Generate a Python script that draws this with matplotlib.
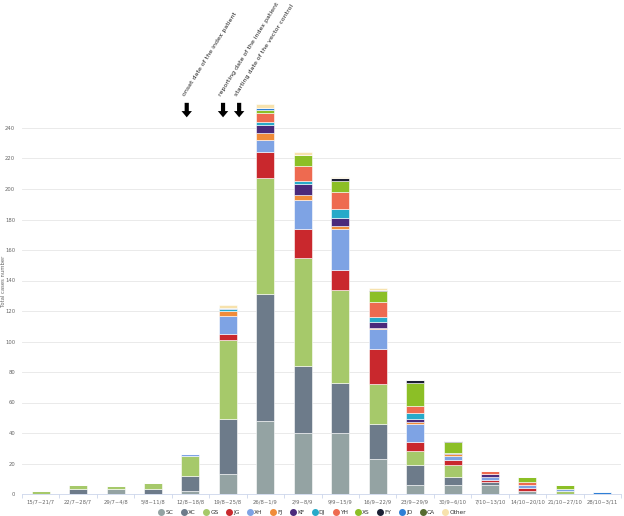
import matplotlib.pyplot as plt
from matplotlib.lines import Line2D
import numpy as np

weeks = ["15/7~21/7", "22/7~28/7", "29/7~4/8", "5/8~11/8", "12/8~18/8", "19/8~25/8",
         "26/8~1/9", "2/9~8/9", "9/9~15/9", "16/9~22/9", "23/9~29/9", "30/9~6/10",
         "7/10~13/10", "14/10~20/10", "21/10~27/10", "28/10~3/11"]

# cases per district, one value per week
SC = [0, 0, 3, 0, 2, 13, 48, 40, 40, 23, 6, 6, 6, 2, 0, 0]
XC = [0, 3, 0, 3, 10, 36, 83, 44, 33, 23, 13, 5, 2, 0, 0, 0]
GS = [2, 3, 2, 4, 13, 52, 76, 71, 61, 26, 9, 8, 0, 0, 2, 0]
JG = [0, 0, 0, 0, 0, 4, 17, 19, 13, 23, 6, 3, 1, 2, 0, 0]
XH = [0, 0, 0, 0, 1, 12, 8, 19, 27, 13, 12, 3, 2, 2, 1, 0]
FJ = [0, 0, 0, 0, 0, 3, 5, 3, 2, 1, 1, 1, 0, 0, 0, 0]
KF = [0, 0, 0, 0, 0, 0, 5, 7, 5, 4, 2, 1, 2, 0, 0, 0]
DJ = [0, 0, 0, 0, 0, 1, 2, 2, 6, 3, 4, 0, 0, 0, 0, 0]
YH = [0, 0, 0, 0, 0, 0, 6, 10, 11, 10, 5, 0, 2, 2, 0, 0]
XS = [0, 0, 0, 0, 0, 0, 2, 7, 7, 7, 15, 7, 0, 3, 3, 0]
FY = [0, 0, 0, 0, 0, 0, 0, 0, 2, 1, 2, 1, 0, 0, 0, 0]
JD = [0, 0, 0, 0, 0, 1, 1, 0, 0, 0, 0, 0, 0, 0, 0, 1]
CA = [0, 0, 0, 0, 0, 0, 0, 0, 0, 0, 0, 0, 0, 0, 0, 0]
Other = [0, 0, 0, 0, 0, 2, 3, 2, 1, 1, 0, 0, 0, 0, 0, 0]

names = ["SC", "XC", "GS", "JG", "XH", "FJ", "KF", "DJ", "YH", "XS", "FY", "JD", "CA", "Other"]
series = [SC, XC, GS, JG, XH, FJ, KF, DJ, YH, XS, FY, JD, CA, Other]
colors = ["#94a3a3", "#6d7b8a", "#a6c96a", "#c9282d", "#7ea3e4", "#f08c3a", "#4b2a7b",
          "#27aac9", "#ee6a50", "#8cbf26", "#1b1f33", "#2e7fd6", "#556b2f", "#f7e2ad"]

events = ["onset date of the index patient", "reporting date of the index patient",
          "starting date of the vector control"]
event_x = [3.9, 4.87, 5.3]

fig = plt.figure(figsize=(6.24, 5.16), dpi=100)
ax = fig.add_axes([22 / 624, 22 / 516, 599 / 624, 488 / 516])

x = np.arange(len(weeks))
bottom = np.zeros(len(weeks))
for name, vals, c in zip(names, series, colors):
    vals = np.array(vals, dtype=float)
    ax.bar(x, vals, 0.48, bottom=bottom, color=c, edgecolor="white", linewidth=0.4, zorder=3)
    bottom += vals

ax.set_xlim(-0.5, len(weeks) - 0.5)
ax.set_ylim(0, 320)
ax.set_yticks(np.arange(0, 241, 20))
ax.set_xticks(x)
ax.set_xticklabels(weeks)
ax.set_xticks(np.arange(-0.5, len(weeks)), minor=True)
ax.tick_params(axis="x", which="major", length=0, labelsize=3.8, labelcolor="#666666", pad=4)
ax.tick_params(axis="x", which="minor", length=3, color="#ccd6eb", width=0.6)
ax.tick_params(axis="y", length=0, labelsize=3.8, labelcolor="#666666", pad=5)
ax.grid(axis="y", color="#e6e6e6", linewidth=0.6, zorder=0)
for s in ["top", "right", "left"]:
    ax.spines[s].set_visible(False)
ax.spines["bottom"].set_color("#ccd6eb")
ax.spines["bottom"].set_linewidth(0.6)
ax.set_ylabel("Total cases number", fontsize=3.8, color="#666666")
ax.yaxis.set_label_coords(-0.026, 0.436)

for label, ex in zip(events, event_x):
    ax.annotate("", xy=(ex, 247), xytext=(ex, 256.5),
                arrowprops=dict(arrowstyle="simple,head_width=0.75,head_length=0.45,tail_width=0.3",
                                color="black", lw=0, shrinkA=0, shrinkB=0))
    ax.text(ex - 0.02, 260, label, rotation=58, rotation_mode="anchor",
            ha="left", va="bottom", fontsize=4.5, color="#222222")

handles = [Line2D([], [], marker="o", linestyle="none", markersize=4,
                  markerfacecolor=c, markeredgecolor=c) for c in colors]
fig.legend(handles, names, loc="lower center", bbox_to_anchor=(0.5, -0.008), ncol=14,
           fontsize=4.2, frameon=False, handletextpad=0.1, columnspacing=1.2,
           handlelength=1.2, labelcolor="#333333")

fig.savefig("out.png", dpi=100)
